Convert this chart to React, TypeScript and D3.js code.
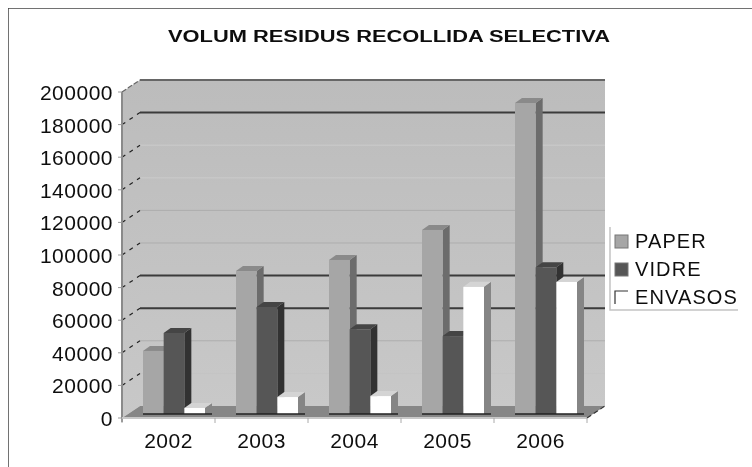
import React from 'react';
import * as d3 from 'd3';

const years = ['2002', '2003', '2004', '2005', '2006'];
const seriesNames = ['PAPER', 'VIDRE', 'ENVASOS'];
const paper = [38700, 87700, 94500, 112900, 190800];
const vidre = [49700, 65600, 52000, 47800, 90000];
const envasos = [3700, 10400, 11000, 78000, 81000];
const darkTicks = [180000, 80000, 60000];
const faintTicks = [20000];

const W = 752, H = 467;
const depthX = 18, depthY = -12;
const barDepthX = 7, barDepthY = -5;
const font = '"Liberation Sans", Arial, sans-serif';

const values = [paper, vidre, envasos];
const faces = [
  { face: '#a6a6a6', side: '#6c6c6c', top: '#8a8a8a' },
  { face: '#565656', side: '#303030', top: '#444444' },
  { face: '#ffffff', side: '#858585', top: '#d4d4d4' },
];

export default function App() {
  const y = d3.scaleLinear().domain([0, 200000]).range([418, 92]);
  const x = d3.scaleBand<string>().domain(years).range([122, 587]);
  const inner = d3.scaleBand<string>().domain(seriesNames).range([21, 83]);
  const ticks = y.ticks(10);
  const baseY = 414;
  const barH = (v: number) => y(0) - y(v);
  const pts = (a: number[][]) => a.map(p => p.join(',')).join(' ');
  const line = d3.line();

  const x0 = x.range()[0], x1 = x.range()[1];
  const y0 = y(0), yT = y(200000);

  return (
    <svg width={W} height={H} viewBox={`0 0 ${W} ${H}`} style={{ position: 'absolute', left: 0, top: 0, background: '#fff' }}>
      <defs>
        <linearGradient id="wall" x1="0" y1="0" x2="0" y2="1">
          <stop offset="0%" stopColor="#bcbcbc" />
          <stop offset="100%" stopColor="#c8c8c8" />
        </linearGradient>
        <filter id="soft" x="0" y="0" width="100%" height="100%">
          <feGaussianBlur stdDeviation="0.7" />
        </filter>
      </defs>
      <g filter="url(#soft)">
        <path d={line([[8, H], [8, 8], [W, 8]]) || ''} fill="none" stroke="#444" strokeWidth={1.5} />

        <text x={389} y={42} textAnchor="middle" fontFamily={font} fontSize={16} fontWeight={700} textLength={442} lengthAdjust="spacingAndGlyphs" fill="#111">
          VOLUM RESIDUS RECOLLIDA SELECTIVA
        </text>

        {/* walls and floor */}
        <polygon points={pts([[x0, yT], [x0 + depthX, yT + depthY], [x0 + depthX, y0 + depthY], [x0, y0]])} fill="url(#wall)" />
        <rect x={x0 + depthX} y={yT + depthY} width={x1 - x0} height={y0 - yT} fill="url(#wall)" />
        <polygon points={pts([[x0, y0], [x0 + depthX, y0 + depthY], [x1 + depthX, y0 + depthY], [x1, y0]])} fill="#868686" />

        {/* gridlines */}
        {ticks.map(t => {
          const dark = darkTicks.includes(t) || t === 200000;
          const faint = faintTicks.includes(t);
          const stroke = t === 200000 ? '#666' : dark ? '#3a3a3a' : faint ? '#c4c4c4' : t === 160000 || t === 140000 ? '#cbcbcb' : '#adadad';
          return (
            <g key={t}>
              {t > 0 && <line x1={x0 + depthX} x2={x1 + depthX} y1={y(t) + depthY} y2={y(t) + depthY} stroke={stroke} strokeWidth={dark ? 2 : 1} />}
              {t > 0 && t < 200000 && (
                <line x1={x0} y1={y(t)} x2={x0 + depthX} y2={y(t) + depthY} stroke="#222" strokeWidth={1.2} strokeDasharray="4 5" />
              )}
            </g>
          );
        })}
        <line x1={x0} y1={yT} x2={x0 + depthX} y2={yT + depthY} stroke="#666" strokeWidth={1.2} strokeDasharray="5 2" />

        {/* bars */}
        {years.map((yr, i) => (
          <g key={yr}>
            {seriesNames.map((s, k) => {
              const left = (x(yr) as number) + (inner(s) as number);
              const bw = inner.bandwidth();
              const h = barH(values[k][i]);
              const top = baseY - h;
              const c = faces[k];
              return (
                <g key={s}>
                  <polygon points={pts([[left + bw, top], [left + bw + barDepthX, top + barDepthY], [left + bw + barDepthX, baseY + barDepthY], [left + bw, baseY]])} fill={c.side} />
                  <polygon points={pts([[left, top], [left + barDepthX, top + barDepthY], [left + bw + barDepthX, top + barDepthY], [left + bw, top]])} fill={c.top} />
                  <rect x={left} y={top} width={bw} height={h} fill={c.face} />
                </g>
              );
            })}
            <line x1={(x(yr) as number) + 21} x2={(x(yr) as number) + 90} y1={baseY} y2={baseY} stroke="#222" strokeWidth={1.5} />
          </g>
        ))}

        {/* axes */}
        <line x1={x0} x2={x0} y1={yT} y2={y0 + 4} stroke="#8a8a8a" strokeWidth={2} />
        <line x1={x0} x2={x1} y1={y0} y2={y0} stroke="#c8c8c8" strokeWidth={2} />
        <line x1={x1} y1={y0} x2={x1 + depthX} y2={y0 + depthY} stroke="#333" strokeWidth={1.2} strokeDasharray="5 3" />
        {ticks.map(t => (
          <g key={t}>
            <line x1={x0 - 4} x2={x0} y1={y(t)} y2={y(t)} stroke="#999" />
            <text x={113} y={y(t) + 8} textAnchor="end" fontFamily={font} fontSize={21} letterSpacing={0.5} fill="#111">{d3.format('d')(t)}</text>
          </g>
        ))}
        {[...years, ''].map((_, i) => {
          const tx = x0 + i * x.step();
          return <line key={i} x1={tx} x2={tx} y1={y0} y2={y0 + 5} stroke="#aaa" />;
        })}
        {years.map(yr => (
          <text key={yr} x={(x(yr) as number) + x.bandwidth() / 2} y={448} textAnchor="middle" fontFamily={font} fontSize={21} letterSpacing={0.5} fill="#111">{yr}</text>
        ))}

        {/* legend */}
        <path d={line([[610, 227], [610, 310], [738, 310]]) || ''} fill="none" stroke="#c4c4c4" strokeWidth={1.5} />
        {seriesNames.map((s, k) => {
          const ly = [241, 269, 297][k];
          return (
            <g key={s}>
              {k < 2 && <rect x={615} y={ly - 6} width={13} height={13} fill={faces[k].face} stroke="#777" strokeWidth={1} />}
              {k === 2 && <path d={line([[615, ly + 7], [615, ly - 6], [628, ly - 6]]) || ''} fill="none" stroke="#333" strokeWidth={1.2} />}
              <text x={635} y={ly + 7} fontFamily={font} fontSize={20} letterSpacing={1.1} fill="#111">{s}</text>
            </g>
          );
        })}
      </g>
    </svg>
  );
}
